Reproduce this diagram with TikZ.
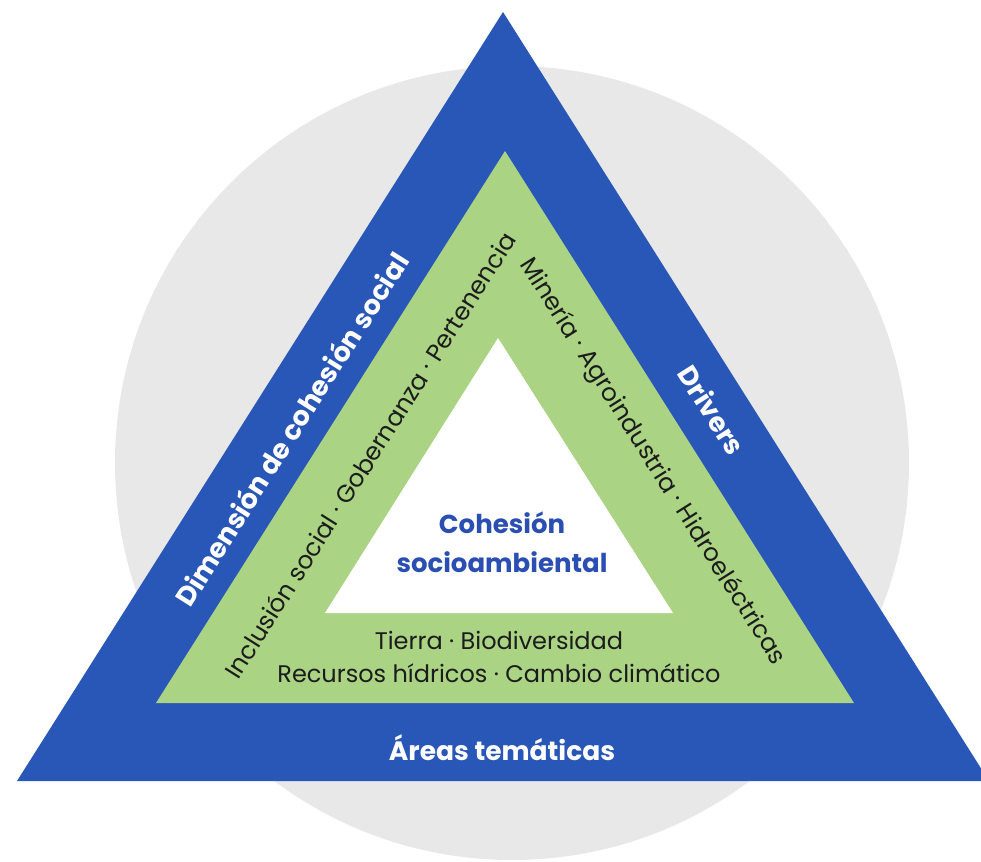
\documentclass[tikz,border=0pt]{standalone}
\usepackage{fontspec}
\setmainfont{Poppins}
\definecolor{bandblue}{RGB}{41,87,184}
\definecolor{bandgreen}{RGB}{170,211,132}
\definecolor{circgrey}{RGB}{232,232,232}
\definecolor{titleblue}{RGB}{42,78,178}
\definecolor{darktext}{RGB}{28,28,28}
\begin{document}
\begin{tikzpicture}[x=1pt,y=-1pt,
  whitelabel/.style={text=white,font=\fontsize{27}{30}\selectfont\bfseries,inner sep=0pt},
  greenlabel/.style={text=darktext,font=\fontsize{24.5}{28}\selectfont,inner sep=0pt},
  centrelabel/.style={text=titleblue,font=\fontsize{26}{39}\selectfont\bfseries,align=center,inner sep=0pt},
  bottomlabel/.style={text=darktext,font=\fontsize{24}{33}\selectfont,align=center,inner sep=0pt}]
\useasboundingbox (0,0) rectangle (981,861);
\clip (0,0) rectangle (981,861);
% background disc
\fill[circgrey] (512,463) circle (397);
% outer blue triangle
\fill[bandblue] (17,781) -- (503,12) -- (989,781) -- cycle;
% green triangle
\fill[bandgreen] (156,703) -- (505,151) -- (854,703) -- cycle;
% inner white triangle
\fill[white] (325,613) -- (498,338) -- (673,613) -- cycle;
% labels
\node[whitelabel,rotate=57.7] (dim) at (291,429) {Dimensión de cohesión social};
\node[whitelabel,rotate=-57.7] (drv) at (712,410) {Drivers};
\node[whitelabel,font=\fontsize{26.5}{30}\selectfont\bfseries] (areas) at (502,748) {Áreas temáticas};
\node[greenlabel,rotate=57.7] (left) at (370,455) {Inclusión social · Gobernanza · Pertenencia};
\node[greenlabel,rotate=-57.7] (right) at (652,462) {Minería · Agroindustria · Hidroeléctricas};
\node[bottomlabel] (bottom) at (499,657) {Tierra · Biodiversidad\\Recursos hídricos · Cambio climático};
\node[centrelabel] (core) at (502,542) {Cohesión\\socioambiental};
\end{tikzpicture}
\end{document}
